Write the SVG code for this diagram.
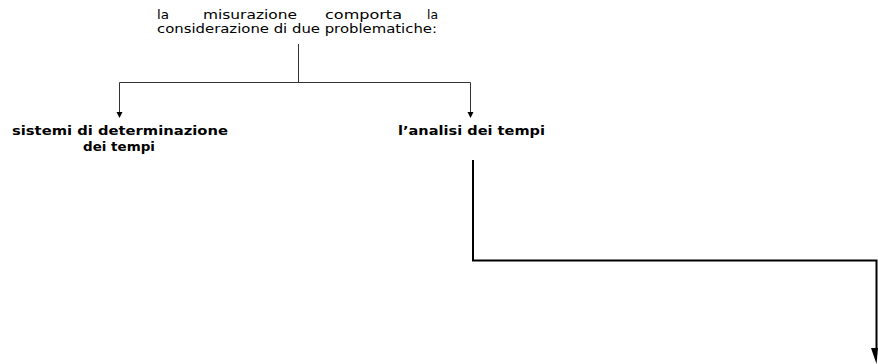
<svg xmlns="http://www.w3.org/2000/svg" width="878" height="364" viewBox="0 0 878 364">
<defs>
<style>
.t{font-family:"DejaVu Sans",Verdana,sans-serif;font-size:12.5px;fill:#000}
.b{font-family:"DejaVu Sans",Verdana,sans-serif;font-size:12.5px;font-weight:bold;fill:#000}
.thin{stroke:#333;stroke-width:1;fill:none}
.thick{stroke:#000;stroke-width:2;fill:none}
</style>
</defs>
<rect width="878" height="364" fill="#fff"/>
<g id="top">
<text class="t" x="157" y="19" textLength="12" lengthAdjust="spacingAndGlyphs">la</text>
<text class="t" x="203" y="19" textLength="94" lengthAdjust="spacingAndGlyphs">misurazione</text>
<text class="t" x="325" y="19" textLength="77" lengthAdjust="spacingAndGlyphs">comporta</text>
<text class="t" x="427" y="19" textLength="11" lengthAdjust="spacingAndGlyphs">la</text>
<text class="t" x="157" y="33" textLength="280" lengthAdjust="spacingAndGlyphs">considerazione di due problematiche:</text>
</g>
<g id="left">
<text class="b" x="12" y="135" textLength="216" lengthAdjust="spacingAndGlyphs">sistemi di determinazione</text>
<text class="b" x="83" y="151" textLength="72" lengthAdjust="spacingAndGlyphs">dei tempi</text>
</g>
<g id="right">
<text class="b" x="398" y="135" textLength="147" lengthAdjust="spacingAndGlyphs">l’analisi dei tempi</text>
</g>
<g id="connectors">
<path class="thin" d="M298.5,44 V82.5 M119.5,82.5 H470.5"/>
<path class="thin" d="M119.5,82.5 V112"/>
<path d="M116.5,112 L122.5,112 L119.5,118 Z" fill="#000"/>
<path class="thin" d="M470.5,82.5 V112"/>
<path d="M467.5,112 L473.5,112 L470.5,118 Z" fill="#000"/>
<path class="thick" d="M473,160 V260.5 H876.5 V350"/>
<path d="M871,348 L878,348 L876.5,364 Z" fill="#000"/>
</g>
</svg>
